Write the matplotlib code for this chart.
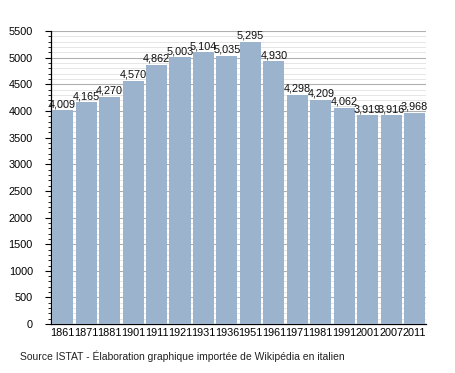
import matplotlib
matplotlib.use("Agg")
import matplotlib.pyplot as plt
from matplotlib.ticker import MultipleLocator

plt.rcParams["font.family"] = ["Liberation Sans", "DejaVu Sans"]

years = ["1861", "1871", "1881", "1901", "1911", "1921", "1931", "1936",
         "1951", "1961", "1971", "1981", "1991", "2001", "2007", "2011"]
population = [4009, 4165, 4270, 4570, 4862, 5003, 5104, 5035,
              5295, 4930, 4298, 4209, 4062, 3919, 3916, 3968]
labels = ["4,009", "4,165", "4,270", "4,570", "4,862", "5,003", "5,104", "5,035",
          "5,295", "4,930", "4,298", "4,209", "4,062", "3,919", "3,916", "3,968"]

fig = plt.figure(figsize=(4.55, 3.73), dpi=100)
ax = fig.add_axes([0.112, 0.131, 0.825, 0.786])

x = range(len(years))
ax.bar(x, population, width=0.9, color="#9bb3cd", zorder=3)
for xi, v, lab in zip(x, population, labels):
    ax.text(xi, v + 20, lab, ha="center", va="bottom", fontsize=7.8,
            color="#111111", zorder=4)

ax.set_xlim(-0.5, len(years) - 0.5)
ax.set_ylim(0, 5500)
ax.yaxis.set_major_locator(MultipleLocator(500))
ax.yaxis.set_minor_locator(MultipleLocator(100))
ax.grid(axis="y", which="major", color="#b0b0b0", linewidth=0.8, zorder=0)
ax.grid(axis="y", which="minor", color="#e2e2e2", linewidth=0.6, zorder=0)
ax.set_xticks(list(x))
ax.set_xticklabels(years, fontsize=7.8)
ax.tick_params(axis="x", length=0, pad=3)
ax.tick_params(axis="y", which="major", length=4, labelsize=7.8, width=0.8, pad=9)
ax.tick_params(axis="y", which="minor", length=2, width=0.6)
for s in ["top", "right"]:
    ax.spines[s].set_visible(False)
ax.spines["left"].set_linewidth(0.9)
ax.spines["bottom"].set_linewidth(0.9)

fig.text(0.044, 0.045, "Source ISTAT - Élaboration graphique importée de Wikipédia en italien",
         fontsize=7.5, color="#222222", ha="left", va="center")

fig.savefig("out.png", dpi=100)
